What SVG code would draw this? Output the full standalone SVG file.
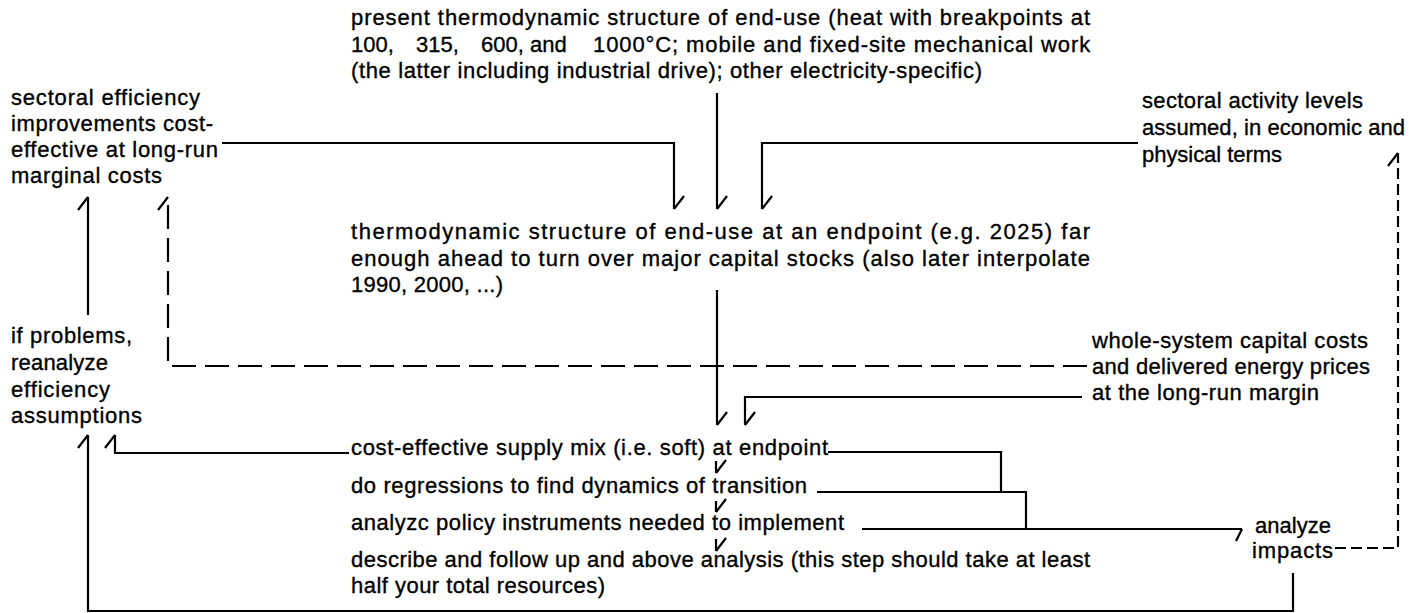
<svg xmlns="http://www.w3.org/2000/svg" width="1425" height="613" viewBox="0 0 1425 613">
<style>
text{font-family:"Liberation Sans",Arial,sans-serif;font-size:22px;fill:#000;stroke:#000;stroke-width:0.35}
.c{fill:none;stroke:#000;stroke-width:2.2}
.d1{stroke-dasharray:24 9}
.d2{stroke-dasharray:11 5}
</style>
<defs>
<marker id="barb" markerUnits="userSpaceOnUse" orient="auto" markerWidth="30" markerHeight="30" viewBox="-15 -15 30 30" refX="0" refY="0">
<path d="M0,0 L-13,-10" fill="none" stroke="#000" stroke-width="2.2" stroke-dasharray="none"/>
</marker>
<marker id="barbR" markerUnits="userSpaceOnUse" orient="auto" markerWidth="30" markerHeight="30" viewBox="-15 -15 30 30" refX="0" refY="0">
<path d="M0,0 L-6,12" fill="none" stroke="#000" stroke-width="2.2" stroke-dasharray="none"/>
</marker>
</defs>
<rect width="1425" height="613" fill="#fff"/>

<g id="connectors">
<path class="c" d="M222,143 H674 V209" marker-end="url(#barb)"/>
<path class="c" d="M717,93 V209" marker-end="url(#barb)"/>
<path class="c" d="M1138,143 H762 V209" marker-end="url(#barb)"/>
<path class="c" d="M717,290 V425" marker-end="url(#barb)"/>
<path class="c" d="M1082,397 H745 V425" marker-end="url(#barb)"/>
<path class="c d1" d="M1087,366 H168 V197" marker-end="url(#barb)"/>
<path class="c" d="M88,315 V197" marker-end="url(#barb)"/>
<path class="c" d="M1293,573 V611 H88 V435" marker-end="url(#barb)"/>
<path class="c" d="M349,453 H115 V435" marker-end="url(#barb)"/>
<path class="c" d="M828,452 H1001 V492"/>
<path class="c" d="M817,492 H1026 V529"/>
<path class="c" d="M862,529 H1242" marker-end="url(#barbR)"/>
<path class="c d2" d="M1335,548 H1398 V153" marker-end="url(#barb)"/>
<path class="c" d="M716,461 V473" marker-end="url(#barb)"/>
<path class="c" d="M716,501 V512" marker-end="url(#barb)"/>
<path class="c" d="M716,539 V551" marker-end="url(#barb)"/>
</g>

<g id="present-structure">
<text x="351" y="25" textLength="739" lengthAdjust="spacing">present thermodynamic structure of end-use (heat with breakpoints at</text>
<text y="52"><tspan x="351">100,</tspan><tspan x="416">315,</tspan><tspan x="481">600, and</tspan><tspan x="593" letter-spacing="0.9">1000°C; mobile and fixed-site mechanical work</tspan></text>
<text x="351" y="78" textLength="631" lengthAdjust="spacing">(the latter including industrial drive); other electricity-specific)</text>
</g>

<g id="sectoral-efficiency">
<text x="11" y="105" textLength="189" lengthAdjust="spacing">sectoral efficiency</text>
<text x="11" y="131" textLength="202" lengthAdjust="spacing">improvements cost-</text>
<text x="11" y="157" textLength="207" lengthAdjust="spacing">effective at long-run</text>
<text x="11" y="183" textLength="151" lengthAdjust="spacing">marginal costs</text>
</g>

<g id="activity-levels">
<text x="1142" y="108" textLength="221" lengthAdjust="spacing">sectoral activity levels</text>
<text x="1142" y="135" textLength="263" lengthAdjust="spacing">assumed, in economic and</text>
<text x="1142" y="162" textLength="140" lengthAdjust="spacing">physical terms</text>
</g>

<g id="endpoint-structure">
<text x="351" y="239" textLength="739" lengthAdjust="spacing">thermodynamic structure of end-use at an endpoint (e.g. 2025) far</text>
<text x="351" y="266" textLength="739" lengthAdjust="spacing">enough ahead to turn over major capital stocks (also later interpolate</text>
<text x="351" y="292" textLength="152" lengthAdjust="spacing">1990, 2000, ...)</text>
</g>

<g id="reanalyze">
<text x="11" y="343" textLength="121" lengthAdjust="spacing">if problems,</text>
<text x="11" y="370" textLength="97" lengthAdjust="spacing">reanalyze</text>
<text x="11" y="397" textLength="99" lengthAdjust="spacing">efficiency</text>
<text x="11" y="423" textLength="131" lengthAdjust="spacing">assumptions</text>
</g>

<g id="capital-costs">
<text x="1092" y="348" textLength="276" lengthAdjust="spacing">whole-system capital costs</text>
<text x="1092" y="374" textLength="278" lengthAdjust="spacing">and delivered energy prices</text>
<text x="1092" y="400" textLength="227" lengthAdjust="spacing">at the long-run margin</text>
</g>

<g id="supply-mix">
<text x="351" y="455" textLength="477" lengthAdjust="spacing">cost-effective supply mix (i.e. soft) at endpoint</text>
</g>
<g id="regressions">
<text x="351" y="493" textLength="456" lengthAdjust="spacing">do regressions to find dynamics of transition</text>
</g>
<g id="policy-instruments">
<text x="351" y="530" textLength="493" lengthAdjust="spacing">analyzc policy instruments needed to implement</text>
</g>
<g id="describe">
<text x="351" y="567" textLength="739" lengthAdjust="spacing">describe and follow up and above analysis (this step should take at least</text>
<text x="351" y="593" textLength="254" lengthAdjust="spacing">half your total resources)</text>
</g>

<g id="impacts">
<text x="1255" y="533" textLength="76" lengthAdjust="spacing">analyze</text>
<text x="1252" y="558" textLength="81" lengthAdjust="spacing">impacts</text>
</g>
</svg>
